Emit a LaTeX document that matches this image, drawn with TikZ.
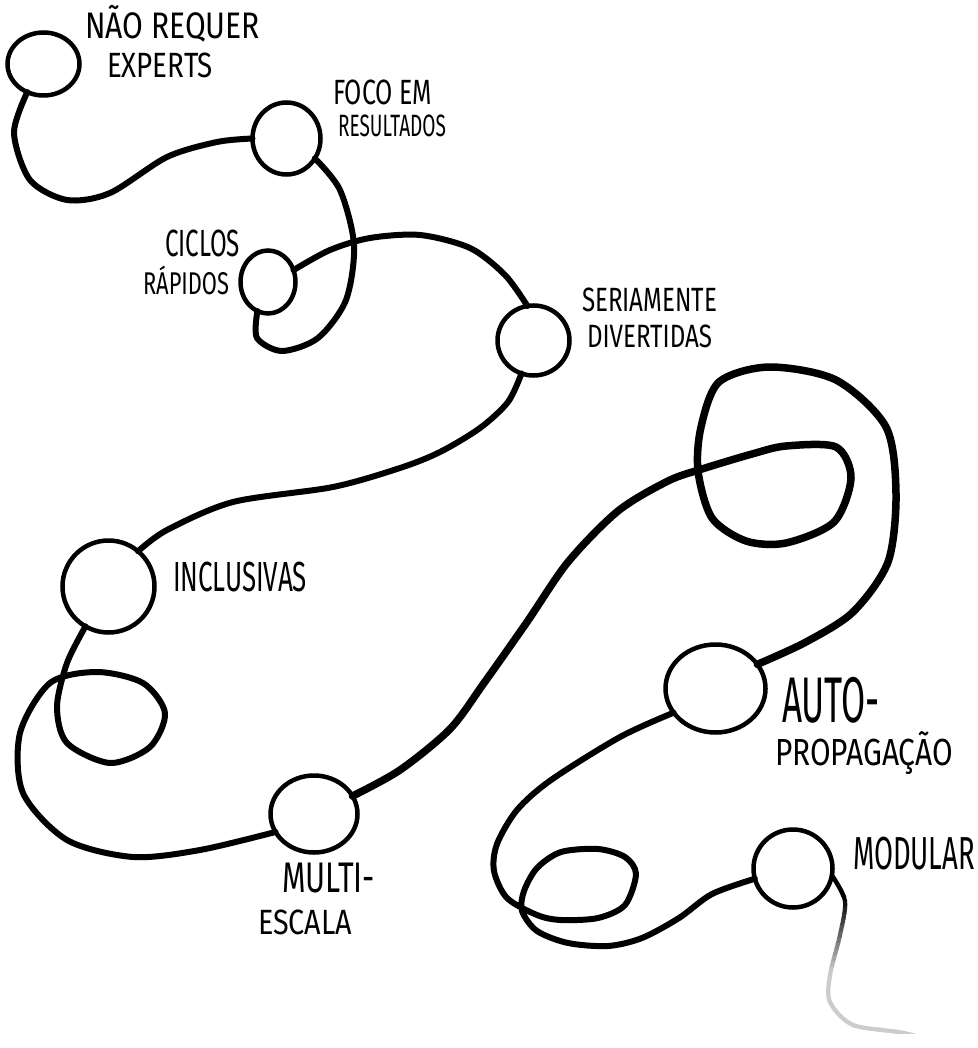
\documentclass[tikz,border=0pt]{standalone}
\usepackage{graphicx}
\usepackage{fontspec}
\setmainfont{Fira Sans}
\usetikzlibrary{shapes.geometric}
\tikzset{
  dot/.style={draw=black, ellipse, line width=4.5pt, inner sep=0pt, outer sep=0pt, fill=none},
  link/.style={draw=black, line width=6pt, line cap=round, line join=round},
  heavylink/.style={draw=black, line width=7.5pt, line cap=round, line join=round},
  lbl/.style={anchor=north west, inner sep=0pt, outer sep=0pt, text=black}
}
\newcommand{\fitlbl}[3]{\resizebox*{#1pt}{#2pt}{#3}}
\begin{document}
\begin{tikzpicture}[x=1pt, y=-1pt]
\fill[white] (0,0) rectangle (977,1048);
\useasboundingbox (0,0) rectangle (977,1048);

% circles
\node[dot, minimum width=72pt, minimum height=63pt] (c1) at (43.5,64) {};
\node[dot, minimum width=68pt, minimum height=72pt] (c2) at (286.5,138.5) {};
\node[dot, minimum width=55pt, minimum height=63pt] (c3) at (268,282) {};
\node[dot, minimum width=72pt, minimum height=70pt] (c4) at (533.5,340.5) {};
\node[dot, minimum width=92pt, minimum height=92pt] (c5) at (108.5,586.5) {};
\node[dot, minimum width=87pt, minimum height=77pt] (c6) at (314,814) {};
\node[dot, minimum width=100pt, minimum height=88pt] (c7) at (715.5,688.5) {};
\node[dot, minimum width=79pt, minimum height=78pt] (c8) at (793,868.5) {};

% labels
\node[lbl] (t1a) at (85,5) {\fitlbl{175}{37}{NÃO REQUER}};
\node[lbl] (t1b) at (107,53) {\fitlbl{106}{25}{EXPERTS}};
\node[lbl] (t2a) at (333,80) {\fitlbl{99}{25}{FOCO EM}};
\node[lbl] (t2b) at (338,115) {\fitlbl{108}{22}{RESULTADOS}};
\node[lbl] (t3a) at (165,230) {\fitlbl{75}{27}{CICLOS}};
\node[lbl] (t3b) at (143,266) {\fitlbl{86}{29}{RÁPIDOS}};
\node[lbl] (t4a) at (582,288) {\fitlbl{135}{24}{SERIAMENTE}};
\node[lbl] (t4b) at (587,325) {\fitlbl{125}{23}{DIVERTIDAS}};
\node[lbl] (t5) at (173,562) {\fitlbl{134}{30}{INCLUSIVAS}};
\node[lbl] (t6a) at (282,863) {\fitlbl{93}{30}{MULTI-}};
\node[lbl] (t6b) at (258,910) {\fitlbl{94}{25}{ESCALA}};
\node[lbl] (t7a) at (782,677) {\fitlbl{98}{46}{AUTO-}};
\node[lbl] (t7b) at (775,732) {\fitlbl{178}{43}{PROPAGAÇÃO}};
\node[lbl] (t8) at (853,837) {\fitlbl{122}{33}{MODULAR}};

% connectors
\draw[link] plot[smooth] coordinates {(c1.240) (14,133) (30,180) (67,200) (110,193) (167,157) (217,142) (c2.180)};
\draw[link] plot[smooth] coordinates {(c2.-35) (340,190) (354,245) (346,300) (318,338) (282,351) (257,338) (c3.250)};
\draw[link] plot[smooth] coordinates {(c3.25) (330,250) (370,238) (420,235) (470,248) (505,275) (c4.100)};
\draw[link] plot[smooth] coordinates {(c4.250) (508,402) (480,428) (440,452) (400,468) (333,487) (233,502) (167,530) (c5.50)};
\draw[link] plot[smooth] coordinates {(c5.240) (67,663) (57,707) (67,743) (110,763) (150,747) (165,713) (143,683) (97,672) (50,683) (20,733) (23,793) (67,840) (133,857) (200,850) (c6.205)};
\draw[heavylink] plot[smooth] coordinates {(c6.25) (400,770) (450,729) (484,683) (527,622) (568,562) (618,511) (668,481) (702,469) (752,454) (786,446) (836,447) (851,478) (834,522) (786,543) (746,541) (712,518) (698,471) (701,427) (719,382) (769,367) (836,380) (886,427) (896,494) (888,562) (853,612) (806,642) (c7.30)};
\draw[link] plot[smooth] coordinates {(c7.210) (620,737) (551,780) (517,810) (497,844) (494,871) (507,898) (537,915) (561,920) (598,918) (625,905) (636,874) (625,857) (598,849) (561,852) (537,868) (524,891) (522,911) (537,931) (568,943) (608,946) (642,938) (679,918) (712,894) (c8.195)};

% fading tail
\coordinate (tail) at (951,1046);
\begin{scope}
  \clip (790,860) rectangle (977,896);
  \draw[link, line width=4.5pt] plot[smooth] coordinates {(c8.-10) (845,901) (840,935) (830,975) (830,1002) (853,1025) (904,1033) (tail)};
\end{scope}
\foreach \i in {0,...,22} {
  \pgfmathsetmacro\ya{895+\i*6}
  \pgfmathsetmacro\yb{\ya+6.8}
  \pgfmathtruncatemacro\pc{max(20,100-\i*6.5)}
  \begin{scope}
    \clip (790,\ya) rectangle (977,\yb);
    \draw[draw=black!\pc, line width=4.2pt, line cap=round] plot[smooth] coordinates {(c8.-10) (845,901) (840,935) (830,975) (830,1002) (853,1025) (904,1033) (tail)};
  \end{scope}
}
\end{tikzpicture}
\end{document}
